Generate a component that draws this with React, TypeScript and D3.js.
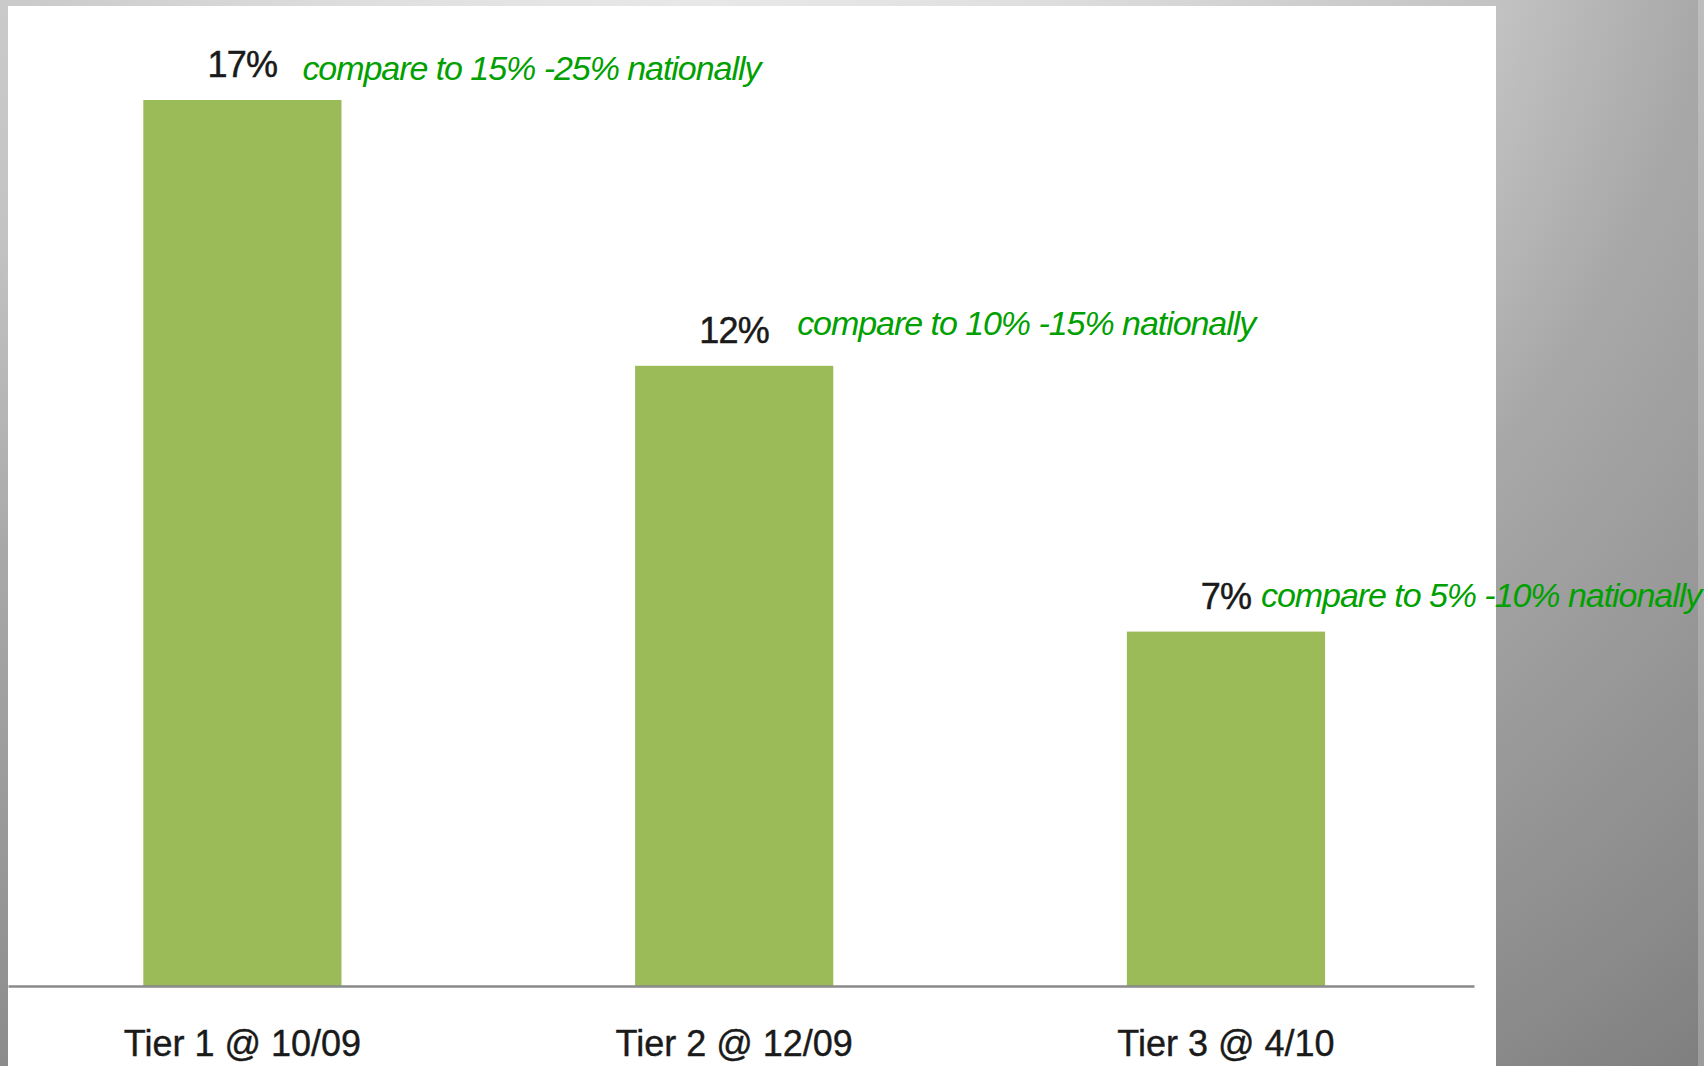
import React, { useEffect, useRef } from "react";
import * as d3 from "d3";

// chart data
const tiers = ["Tier 1 @ 10/09", "Tier 2 @ 12/09", "Tier 3 @ 4/10"];
const rates = [17, 11.9, 6.8]; // bar heights
const rateLabels = ["17%", "12%", "7%"];
const nationalNotes = [
  "compare to 15% -25% nationally",
  "compare to 10% -15% nationally",
  "compare to 5% -10% nationally",
];

const W = 1704;
const H = 1066;
const FONT = "'Liberation Sans', Arial, sans-serif";
const BAR_GREEN = "#9bbb59";
const NOTE_GREEN = "#00a000";
const INK = "#1a1a1a";

// where each green note sits, relative to the bar centre / bar top
const noteDx = [60, 63, 35];
const noteDy = [-20, -31, -25];

const App = () => {
  const axisRef = useRef<SVGGElement>(null);

  const baseY = 986;
  const x = d3.scaleBand<string>()
    .domain(tiers)
    .range([8, 1474])
    .paddingInner(0.597)
    .paddingOuter(0.289)
    .align(0.476);

  const y = d3.scaleLinear()
    .domain([0, 17])
    .range([baseY, 100]);

  useEffect(() => {
    document.body.style.margin = "0";
    const g = d3.select(axisRef.current);
    g.selectAll("*").remove();
    g.call(d3.axisBottom(x).tickSize(0).tickSizeOuter(0).tickPadding(44) as any);
    g.select(".domain").attr("stroke", "#8a8a8a").attr("stroke-width", 2.5);
    g.selectAll(".tick text")
      .attr("fill", INK)
      .attr("stroke", INK)
      .attr("stroke-width", 0.4)
      .attr("font-size", 36)
      .attr("font-family", FONT);
  }, []);

  return (
    <svg width={W} height={H} style={{ display: "block" }}>
      <defs>
        <radialGradient id="bg" gradientUnits="userSpaceOnUse" cx={700} cy={-200} r={1800}>
          <stop offset="0" stopColor="#f0f0f0" />
          <stop offset="0.2" stopColor="#e0e0e0" />
          <stop offset="0.45" stopColor="#c4c4c4" />
          <stop offset="0.57" stopColor="#a8a8a8" />
          <stop offset="0.82" stopColor="#8a8a8a" />
          <stop offset="1" stopColor="#707070" />
        </radialGradient>
        <linearGradient id="edge" x1="0" y1="0" x2="0" y2="1">
          <stop offset="0" stopColor="#bdbdbd" />
          <stop offset="1" stopColor="#9c9c9c" />
        </linearGradient>
      </defs>

      <rect x={0} y={0} width={W} height={H} fill="url(#bg)" />
      <rect x={1698} y={0} width={6} height={H} fill="url(#edge)" />
      <rect x={8} y={6} width={1488} height={H - 6} fill="#ffffff" />

      {rates.map((v, i) => (
        <rect
          key={tiers[i]}
          x={x(tiers[i])}
          y={y(v)}
          width={x.bandwidth()}
          height={baseY - y(v)}
          fill={BAR_GREEN}
        />
      ))}

      <g ref={axisRef} transform={`translate(0,${baseY})`} />

      {rates.map((v, i) => {
        const cx = (x(tiers[i]) ?? 0) + x.bandwidth() / 2;
        return (
          <g key={"lbl" + i}>
            <text
              x={cx}
              y={y(v) - 23}
              textAnchor="middle"
              fontFamily={FONT}
              fontSize={36}
              fill={INK}
              stroke={INK}
              strokeWidth={0.5}
              letterSpacing={-0.8}
            >
              {rateLabels[i]}
            </text>
            <text
              x={cx + noteDx[i]}
              y={y(v) + noteDy[i]}
              fontFamily={FONT}
              fontSize={34}
              fontStyle="italic"
              letterSpacing={-1.05}
              fill={NOTE_GREEN}
            >
              {nationalNotes[i]}
            </text>
          </g>
        );
      })}
    </svg>
  );
};

export default App;
